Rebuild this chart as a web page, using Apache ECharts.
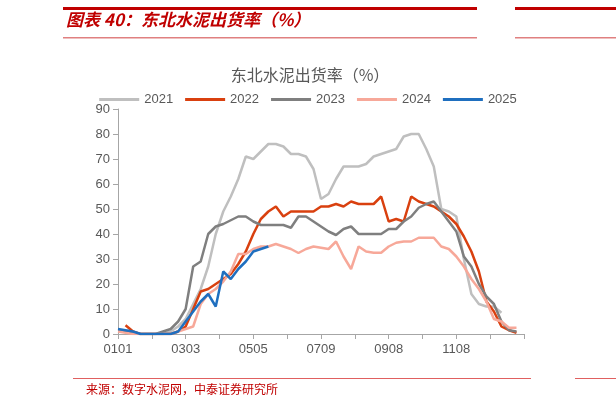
<!DOCTYPE html>
<html><head><meta charset="utf-8">
<script src="https://cdn.jsdelivr.net/npm/echarts@6/dist/echarts.min.js"></script>
<style>html,body{margin:0;padding:0;background:#fff}#c{width:616px;height:408px}</style>
</head><body><div id="c"></div>
<script>
var tickLabels = ['0101','0303','0505','0709','0908','1108',''];
var s2021 = [1,1,0.5,0,0,0,0,1,3,6,12,18,27,40,49,55,62,71,70,73,76,76,75,72,72,71,66,54,56,62,67,67,67,68,71,72,73,74,79,80,80,74,67,50,49,47,30,16,12,11,11,8.5,null,null];
var s2022 = [null,3.5,1,0,0,0,0,0,1,3,10,17,18,20,22,24,28,33,40,46,49,51,47,49,49,49,49,51,51,52,51,53,52,52,52,55,45,46,45,55,53,52,51,49,47,44,39,33,25,13,9,3,1.5,0.5];
var s2023 = [1,1,0.5,0,0,0,1,2,5,10,27,29,40,43,44,45.5,47,47,45,43.6,43.6,43.6,43.6,42.5,47,47,45,43,41,39.6,42,43,40,40,40,40,42,42,45,47,50.5,52,53,49,45,41,31,27,20,15,12,5,1.5,1];
var s2024 = [1,0.5,0,0,0,0,0,0,1,2,3,12,16,18,21,25,32,32,34,35,35,36,35,34,32.4,34,35,34.5,34,37,31,26,35,33,32.5,32.5,35,36.5,37,37,38.5,38.5,38.5,35,34,31,27,22,18,13,6,5,2.5,2.5];
var s2025 = [2,1.5,1,0,0,0,0,0,1,5,9,13,16,11,25,22,26,29,33,34,35];
var names = ['2021','2022','2023','2024','2025'];
var colors = ['#bfbfbf','#d9400f','#7f7f7f','#f7a899','#1f6fbf'];
var all = [s2021,s2022,s2023,s2024,s2025];
var chart = echarts.init(document.getElementById('c'));
chart.setOption({
  animation:false,
  color:colors,
  title:{text:'东北水泥出货率（%）',left:305,textAlign:'center',top:62,textStyle:{fontSize:16,fontWeight:'normal',color:'#595959',fontFamily:'Noto Sans CJK SC'}},
  legend:{top:88,left:'center',itemWidth:40,itemHeight:3,itemGap:12,icon:'rect',textStyle:{fontSize:13,color:'#595959'},data:names},
  grid:{left:118,right:92,top:109,bottom:74},
  xAxis:{type:'value',min:0,max:54,interval:4.5,
    axisLine:{lineStyle:{color:'#a6a6a6'}},axisTick:{show:true,lineStyle:{color:'#a6a6a6'}},splitLine:{show:false},
    axisLabel:{color:'#595959',fontSize:13,margin:9,formatter:function(v){var k=v/9;return Number.isInteger(k)?(tickLabels[k]||''):'';}}},
  yAxis:{type:'value',min:0,max:90,interval:10,
    axisLine:{show:true,lineStyle:{color:'#a6a6a6'}},axisTick:{show:true,lineStyle:{color:'#a6a6a6'}},splitLine:{show:false},
    axisLabel:{color:'#595959',fontSize:13}},
  series:all.map(function(d,i){return {name:names[i],type:'line',showSymbol:false,symbol:'none',
    lineStyle:{width:2.5,color:colors[i]},data:d.map(function(v,j){return [j,v];})};}),
  graphic:[
    {type:'rect',shape:{x:63,y:7,width:414,height:3},style:{fill:'#c00000'}},
    {type:'rect',shape:{x:515,y:7,width:101,height:3},style:{fill:'#c00000'}},
    {type:'text',left:66,top:11,style:{text:'图表 40：东北水泥出货率（%）',fill:'#c00000',font:'italic bold 17px "Noto Sans CJK SC"'}},
    {type:'rect',shape:{x:63,y:37,width:414,height:1.5},style:{fill:'#e08080'}},
    {type:'rect',shape:{x:515,y:37,width:101,height:1.5},style:{fill:'#e08080'}},
    {type:'rect',shape:{x:73,y:378,width:458,height:1},style:{fill:'#e06060'}},
    {type:'rect',shape:{x:575,y:378,width:41,height:1},style:{fill:'#e06060'}},
    {type:'text',left:86,top:383,style:{text:'来源：数字水泥网，中泰证券研究所',fill:'#c00000',font:'12px "Noto Sans CJK SC"'}}
  ]
});
</script></body></html>
